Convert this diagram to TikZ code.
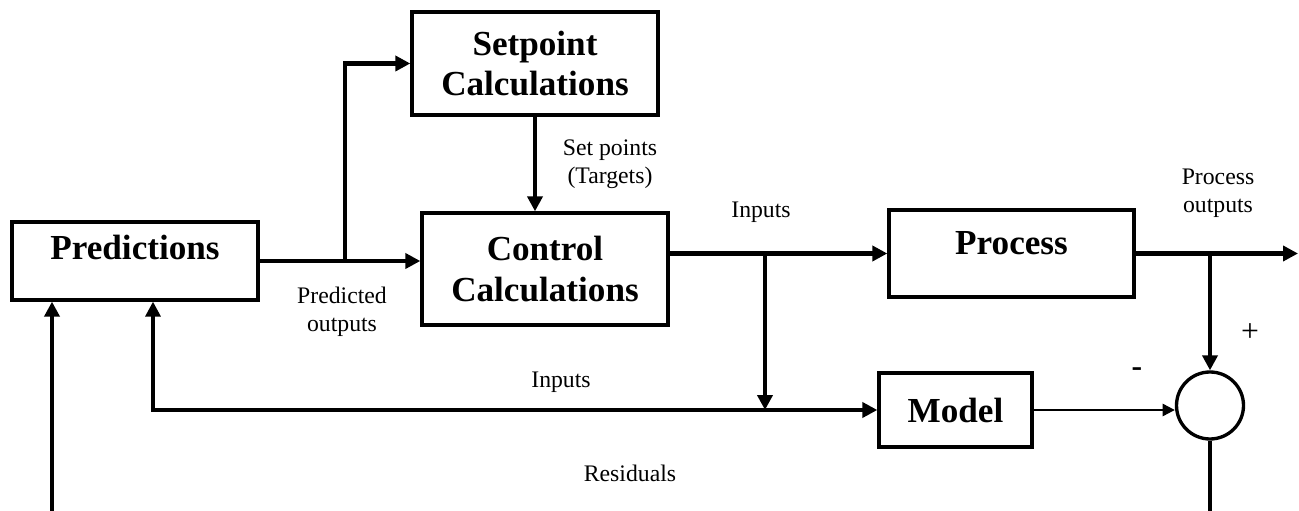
\documentclass[tikz,border=0pt]{standalone}
\usepackage{fontspec}
\setmainfont{Liberation Serif}
\usepackage{tikz}
\usetikzlibrary{arrows.meta,positioning}

\tikzset{
  blk/.style={draw,line width=1.9pt,align=center,
    font=\fontsize{20}{23}\selectfont\bfseries},
  lbl/.style={align=center,font=\fontsize{13.5}{16}\selectfont},
  flow/.style={line width=2.4pt,-{Triangle[length=8.5pt,width=8.5pt]}},
}

\begin{document}
\begin{tikzpicture}
  \useasboundingbox (0,0) rectangle (25.98,10.22);
  % blocks
  \node[blk,minimum width=4.92cm,inner ysep=0.3cm,text height=0.46cm,text depth=0.5cm]
    (pred) at (2.70,5.00) {Predictions};
  \node[blk,minimum width=4.92cm,minimum height=2.06cm] (sp) at (10.70,8.95) {Setpoint\\Calculations};
  \node[blk,minimum width=4.92cm,minimum height=2.24cm] (ctrl) at (10.90,4.84) {Control\\Calculations};
  \node[blk,minimum width=4.90cm,inner ysep=0.44cm,text height=0.46cm,text depth=0.4cm]
    (proc) at (20.23,5.15) {Process};
  \node[blk,minimum width=3.06cm,minimum height=1.48cm] (mdl) at (19.11,2.02) {Model};
  \node[draw,circle,line width=1.9pt,minimum size=1.34cm,inner sep=0pt] (sum) at (24.20,2.11) {};

  % branch points and loose ends
  \coordinate (br1) at (6.90,0 |- pred.east);
  \coordinate (br2) at (15.30,0 |- proc.west);
  \coordinate (pin) at (3.06,0 |- pred.south);
  \coordinate (res) at (1.04,0);
  \coordinate (out) at (25.96,0 |- proc.east);

  % signal paths
  \draw[flow] (pred.east) -- (pred.east -| ctrl.west);
  \draw[flow] (br1) |- (sp.west);
  \draw[flow] (sp.south) -- (sp.south |- ctrl.north);
  \draw[flow] (proc.west -| ctrl.east) -- (proc.west);
  \draw[flow] (br2) -- (br2 |- mdl.west);
  \draw[flow] (br2 |- mdl.west) -- (mdl.west);
  \draw[flow,line width=1.9pt] (br2 |- mdl.west) -| (pin);
  \draw[flow] (res) -- (res |- pred.south);
  \draw[flow] (proc.east) -- (out);
  \draw[flow] (proc.east -| sum.north) -- (sum.north);
  \draw[line width=1.2pt,-{Triangle[length=7pt,width=7pt]}] (mdl.east) -- (mdl.east -| sum.west);
  \draw[line width=2.4pt] (sum.south) -- (sum.south |- res);

  % labels
  \node[lbl] (lpo) at (6.84,3.98) {Predicted\\outputs};
  \node[lbl] (lsp) at (12.20,6.94) {Set points\\(Targets)};
  \node[lbl] (lin) at (15.22,5.98) {Inputs};
  \node[lbl] (lout) at (24.36,6.36) {Process\\outputs};
  \node[lbl] (lin2) at (11.22,2.58) {Inputs};
  \node[lbl] (lres) at (12.60,0.76) {Residuals};
  \node[font=\fontsize{18}{18}\selectfont] (lplus) at (25.00,3.56) {+};
  \node[font=\fontsize{18}{18}\selectfont\bfseries] (lminus) at (22.74,2.78) {-};
\end{tikzpicture}
\end{document}
